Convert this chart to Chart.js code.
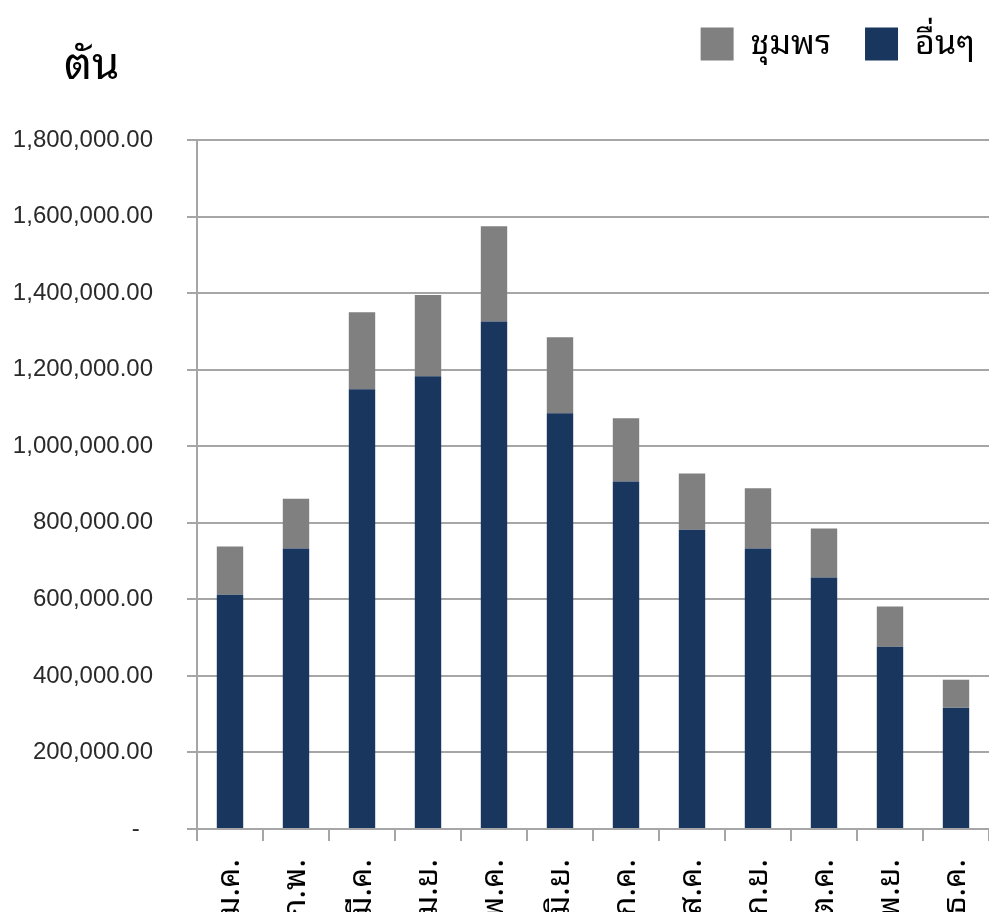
<!DOCTYPE html>
<html lang="th">
<head>
  <meta charset="UTF-8" />
  <title>ตัน</title>
  <script src="https://cdn.jsdelivr.net/npm/chart.js"></script>
  <style>
    html, body { margin: 0; padding: 0; background: #fff; overflow: hidden; }
    #wrap { position: relative; width: 989px; height: 912px; }
  </style>
</head>
<body>
  <div id="wrap"><canvas id="chart"></canvas></div>

  <script>
    // months (Thai abbreviations)
    const months = ['ม.ค.', 'ก.พ.', 'มี.ค.', 'เม.ย.', 'พ.ค.', 'มิ.ย.', 'ก.ค.', 'ส.ค.', 'ก.ย.', 'ต.ค.', 'พ.ย.', 'ธ.ค.'];
    // tonnes
    const others = [612000, 733000, 1149000, 1183000, 1326000, 1086000, 908000, 782000, 733000, 657000, 476000, 317000];
    const chumphon = [126000, 130000, 201000, 212000, 249000, 199000, 165000, 147000, 157000, 128000, 105000, 73000];
    const yTicks = [0, 200000, 400000, 600000, 800000, 1000000, 1200000, 1400000, 1600000, 1800000];

    const navy = '#19375e';
    const grey = '#808080';
    const lineGrey = '#a6a6a6';
    const thaiFont = "'Noto Sans Thai Looped', 'Noto Sans Thai', sans-serif";

    // "ตัน" unit label at top left
    const unitLabel = {
      id: 'unitLabel',
      afterDraw(chart) {
        const c = chart.ctx;
        c.save();
        c.font = '44px ' + thaiFont;
        c.fillStyle = '#000';
        c.textAlign = 'left';
        c.textBaseline = 'alphabetic';
        c.fillText('ตัน', 64, 79);
        c.restore();
      }
    };

    // leave room under the legend and nudge it to the top right corner
    const legendSpace = {
      id: 'legendSpace',
      beforeInit(chart) {
        const lg = chart.legend;
        const fit = lg.fit;
        lg.fit = function () {
          fit.call(this);
          this.height += 62;
        };
      },
      afterLayout(chart) {
        const lg = chart.legend;
        lg.left += 20;
        lg.right += 20;
        lg.top -= 7;
      }
    };

    const ctx = document.getElementById('chart').getContext('2d');
    new Chart(ctx, {
      type: 'bar',
      data: {
        labels: months,
        datasets: [
          { label: 'อื่นๆ', data: others, backgroundColor: navy, barPercentage: 0.4, categoryPercentage: 1 },
          { label: 'ชุมพร', data: chumphon, backgroundColor: grey, barPercentage: 0.4, categoryPercentage: 1 }
        ]
      },
      options: {
        responsive: true,
        maintainAspectRatio: false,
        animation: false,
        layout: { padding: 0 },
        plugins: {
          legend: {
            position: 'top',
            align: 'end',
            reverse: true,
            labels: {
              boxWidth: 33,
              boxHeight: 33,
              padding: 34,
              color: '#000',
              font: { size: 34, family: thaiFont }
            }
          },
          tooltip: { enabled: false }
        },
        scales: {
          x: {
            stacked: true,
            afterFit(scale) { scale.height = 83; scale.paddingLeft = 0; scale.paddingRight = 0; },
            grid: { drawOnChartArea: false, color: lineGrey, lineWidth: 2, tickLength: 12, offset: true },
            border: { color: lineGrey, width: 2 },
            ticks: {
              minRotation: 90,
              maxRotation: 90,
              autoSkip: false,
              padding: 18,
              color: '#000',
              font: { size: 32, family: thaiFont }
            }
          },
          y: {
            stacked: true,
            min: 0,
            max: 1800000,
            afterFit(scale) { scale.width = 197; },
            afterBuildTicks(scale) { scale.ticks = yTicks.map(v => ({ value: v })); },
            grid: { color: lineGrey, lineWidth: 2, tickLength: 10 },
            border: { color: lineGrey, width: 2 },
            ticks: {
              padding: 34,
              color: '#2a2a2a',
              font: { size: 24, family: "'Liberation Sans', Arial, sans-serif" },
              callback: v => v === 0 ? '-  ' : v.toLocaleString('en-US', { minimumFractionDigits: 2, maximumFractionDigits: 2 })
            }
          }
        }
      },
      plugins: [unitLabel, legendSpace]
    });
  </script>
</body>
</html>
